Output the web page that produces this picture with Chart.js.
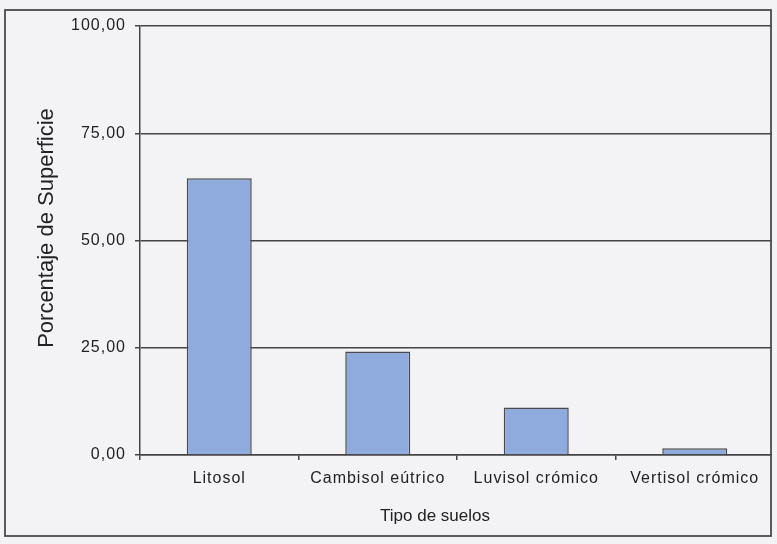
<!DOCTYPE html>
<html>
<head>
<meta charset="utf-8">
<script src="https://cdn.jsdelivr.net/npm/chart.js@4/dist/chart.umd.min.js"></script>
<style>
  html, body { margin: 0; padding: 0; background: #f3f3f5; }
  canvas { display: block; }
</style>
</head>
<body>
<canvas id="c" width="777" height="544"></canvas>
<script>
// Soil types and share of surface (%)
const categories = ['Litosol', 'Cambisol eútrico', 'Luvisol crómico', 'Vertisol crómico'];
const superficie = [64.5, 24.1, 11.1, 1.6];
const yTickValues = [0, 25, 50, 75, 100];
const xTitle = 'Tipo de suelos';
const yTitle = 'Porcentaje de Superficie';

const FONT = '"Liberation Sans", Arial, sans-serif';
const BG = '#f3f3f5';
const INK = '#222222';
const LINE = '#454545';

const frame = {
  id: 'frame',
  beforeDraw(chart) {
    const ctx = chart.ctx;
    ctx.save();
    ctx.fillStyle = BG;
    ctx.fillRect(0, 0, chart.width, chart.height);
    ctx.restore();
    ctx.letterSpacing = '1px';
  },
  afterDraw(chart) {
    const ctx = chart.ctx;
    ctx.save();
    ctx.letterSpacing = '0px';
    // margin outside the frame stays blank
    ctx.fillStyle = BG;
    ctx.fillRect(772, 0, chart.width - 772, chart.height);
    // outer chart border
    ctx.strokeStyle = '#4a4a4a';
    ctx.lineWidth = 1.8;
    ctx.strokeRect(5, 10, 766, 526);
    // axis titles
    ctx.fillStyle = INK;
    ctx.textAlign = 'center';
    ctx.textBaseline = 'alphabetic';
    ctx.font = '17px ' + FONT;
    ctx.fillText(xTitle, 435, 521);
    ctx.translate(53, 228);
    ctx.rotate(-Math.PI / 2);
    ctx.font = '22px ' + FONT;
    ctx.fillText(yTitle, 0, 0);
    ctx.restore();
  }
};

new Chart(document.getElementById('c'), {
  type: 'bar',
  data: {
    labels: categories,
    datasets: [{
      data: superficie,
      backgroundColor: '#8faadc',
      borderColor: '#4a4a4a',
      borderWidth: 1.5,
      categoryPercentage: 1,
      barPercentage: 0.41
    }]
  },
  options: {
    responsive: false,
    devicePixelRatio: 1,
    animation: false,
    events: [],
    layout: { padding: { top: 26, right: 3, left: 0, bottom: 0 } },
    plugins: { legend: { display: false }, tooltip: { enabled: false } },
    scales: {
      x: {
        offset: true,
        afterFit(scale) { scale.height = 89; },
        grid: { offset: true, drawOnChartArea: false, drawTicks: true, tickLength: 5, color: LINE, lineWidth: 1.5 },
        border: { display: true, color: LINE, width: 1.5 },
        ticks: { color: INK, font: { family: FONT, size: 16 }, padding: 9, maxRotation: 0, autoSkip: false }
      },
      y: {
        min: 0,
        max: 100,
        afterFit(scale) { scale.width = 140; },
        afterBuildTicks(scale) { scale.ticks = yTickValues.map(v => ({ value: v })); },
        grid: { color: LINE, lineWidth: 1.5, tickLength: 5 },
        border: { display: true, color: LINE, width: 1.5 },
        ticks: {
          color: INK,
          font: { family: FONT, size: 16 },
          padding: 9,
          callback: v => v.toFixed(2).replace('.', ',')
        }
      }
    }
  },
  plugins: [frame]
});
</script>
</body>
</html>
